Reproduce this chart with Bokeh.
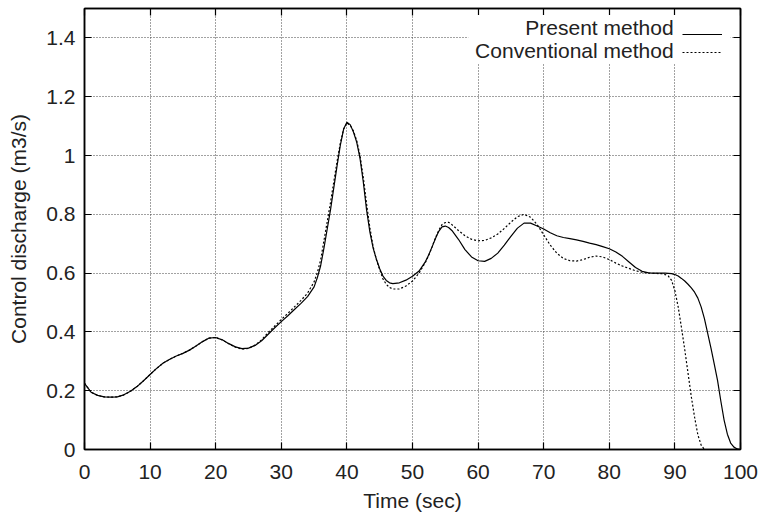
from bokeh.plotting import figure
from bokeh.models import (Range1d, LinearAxis, FixedTicker, Legend, LegendItem,
                          Label, BoxAnnotation)
from bokeh.embed import file_html
from bokeh.resources import INLINE

# ---------------- data ----------------
time_s = [
    0, 1, 2, 3, 4, 5, 6, 7, 8, 9, 10, 11, 12, 13, 14, 15, 16, 17, 18, 19,
    20, 21, 22, 23, 24, 25, 26, 27, 28, 29, 30, 31, 32, 33, 34, 35,
    35.5, 36, 36.5, 37, 37.5, 38, 38.5, 39, 39.5, 40, 40.5, 41, 41.5, 42,
    42.5, 43, 43.5, 44, 44.5, 45, 45.5, 46, 46.5, 47,
    48, 49, 50, 51,
    52, 52.5, 53, 53.5, 54, 54.5, 55, 55.5, 56, 56.5, 57,
    58, 59, 60, 61, 62, 63, 64, 65, 66, 67, 68, 69, 70, 71, 72, 73, 74, 75,
    76, 77, 78, 79, 80, 81, 82, 83, 84, 85, 86, 87, 88,
    88.5, 89, 89.5, 90, 90.5, 91, 91.5, 92, 92.5, 93, 93.5, 94, 94.5, 95,
    95.5, 96, 96.5, 97, 97.5, 98, 98.5, 99, 99.5, 100,
]

present = [
    0.225, 0.195, 0.184, 0.179, 0.178, 0.179, 0.186, 0.198, 0.214, 0.234,
    0.255, 0.276, 0.294, 0.307, 0.318, 0.327, 0.338, 0.352, 0.367, 0.379,
    0.381, 0.373, 0.360, 0.349, 0.343, 0.345, 0.354, 0.370, 0.392, 0.414,
    0.435, 0.455, 0.476, 0.497, 0.520, 0.553,
    0.585, 0.625, 0.685, 0.750, 0.815, 0.890, 0.965, 1.035, 1.090, 1.113,
    1.105, 1.080, 1.045, 0.990, 0.910, 0.815, 0.740, 0.685, 0.647, 0.615,
    0.590, 0.575, 0.567, 0.564,
    0.567, 0.576, 0.589, 0.607,
    0.640, 0.663, 0.690, 0.718, 0.742, 0.757, 0.760, 0.755, 0.745, 0.730,
    0.715,
    0.680, 0.655, 0.642, 0.640, 0.650, 0.668, 0.695, 0.725, 0.753, 0.770,
    0.770, 0.760, 0.750, 0.737, 0.727, 0.721, 0.717, 0.713, 0.708, 0.702,
    0.697, 0.690, 0.683, 0.672, 0.657, 0.638, 0.619, 0.606, 0.601, 0.600,
    0.600,
    0.600, 0.599, 0.598, 0.595, 0.590, 0.582, 0.573, 0.562, 0.550, 0.535,
    0.515, 0.485, 0.445, 0.395, 0.345, 0.290, 0.235, 0.165, 0.100, 0.052,
    0.022, 0.008, 0.002, 0.000,
]

conventional = [
    0.225, 0.195, 0.184, 0.179, 0.178, 0.179, 0.186, 0.198, 0.214, 0.234,
    0.255, 0.276, 0.294, 0.307, 0.318, 0.327, 0.338, 0.352, 0.367, 0.379,
    0.381, 0.373, 0.360, 0.348, 0.341, 0.344, 0.355, 0.373, 0.398, 0.420,
    0.442, 0.463, 0.485, 0.507, 0.532, 0.570,
    0.602, 0.645, 0.710, 0.775, 0.840, 0.910, 0.980, 1.042, 1.090, 1.110,
    1.103, 1.083, 1.050, 1.000, 0.925, 0.835, 0.755, 0.690, 0.645, 0.612,
    0.580, 0.562, 0.551, 0.546,
    0.546, 0.556, 0.573, 0.600,
    0.638, 0.662, 0.690, 0.720, 0.745, 0.765, 0.772, 0.773, 0.765, 0.755,
    0.745,
    0.727, 0.715, 0.710, 0.711, 0.720, 0.733, 0.752, 0.773, 0.792, 0.800,
    0.790, 0.765, 0.730, 0.695, 0.668, 0.650, 0.642, 0.641, 0.646, 0.654,
    0.658, 0.655, 0.646, 0.634, 0.624, 0.616, 0.608, 0.603, 0.600, 0.599,
    0.598,
    0.595, 0.590, 0.575, 0.540, 0.485, 0.415, 0.340, 0.260, 0.180, 0.110,
    0.050, 0.015, 0.000, 0.000, 0.000, 0.000, 0.000, 0.000, 0.000, 0.000,
    0.000, 0.000, 0.000, 0.000,
]

x_ticks = [0, 10, 20, 30, 40, 50, 60, 70, 80, 90, 100]
y_ticks = [0, 0.2, 0.4, 0.6, 0.8, 1.0, 1.2, 1.4]
y_tick_labels = ["0", "0.2", "0.4", "0.6", "0.8", "1", "1.2", "1.4"]
series_names = ["Present method", "Conventional method"]
x_title = "Time (sec)"
y_title = "Control discharge (m3/s)"

# ---------------- styling ----------------
FONT = "Liberation Sans"
FS = "21px"
TXT = "#222222"

p = figure(width=762, height=517, output_backend="svg", toolbar_location=None,
           x_range=Range1d(0, 100), y_range=Range1d(0, 1.5),
           min_border_left=84, min_border_right=22, min_border_top=8,
           min_border_bottom=68)
p.background_fill_color = "white"
p.border_fill_color = "white"
p.outline_line_color = "black"
p.outline_line_width = 1.5

solid = p.line(time_s, present, line_color="black", line_width=1.2)
dotted = p.line(time_s, conventional, line_color="black", line_width=1.2,
                line_dash="2 2")

# bottom / left axes
xa = p.xaxis[0]
ya = p.yaxis[0]
xa.ticker = FixedTicker(ticks=x_ticks)
ya.ticker = FixedTicker(ticks=y_ticks)
ya.major_label_overrides = {t: l for t, l in zip(y_ticks, y_tick_labels)}
xa.axis_label = x_title
ya.axis_label = y_title
for ax in (xa, ya):
    ax.major_tick_in = 7
    ax.major_tick_out = 0
    ax.minor_tick_line_color = None
    ax.axis_line_color = "black"
    ax.axis_line_width = 1.5
    ax.major_tick_line_width = 1.2
    ax.major_label_text_font = FONT
    ax.major_label_text_font_size = FS
    ax.major_label_text_color = TXT
    ax.axis_label_text_font = FONT
    ax.axis_label_text_font_size = FS
    ax.axis_label_text_font_style = "normal"
    ax.axis_label_text_color = TXT
xa.major_label_standoff = 15
xa.axis_label_standoff = 7
ya.major_label_standoff = 9
ya.axis_label_standoff = 13

# mirrored tick axes on top and right (ticks only, labels not drawn)
for loc, ticks in (("above", x_ticks), ("right", y_ticks)):
    ax = LinearAxis(ticker=FixedTicker(ticks=ticks))
    ax.major_tick_in = 7
    ax.major_tick_out = 0
    ax.minor_tick_line_color = None
    ax.axis_line_color = "black"
    ax.axis_line_width = 1.5
    ax.major_tick_line_width = 1.2
    ax.major_label_text_font_size = "1px"
    ax.major_label_text_color = None
    ax.major_label_standoff = 0
    p.add_layout(ax, loc)

# grid
for g in (p.xgrid[0], p.ygrid[0]):
    g.grid_line_color = "#444444"
    g.grid_line_width = 1
    g.grid_line_dash = "1 2"
p.xgrid[0].ticker = FixedTicker(ticks=x_ticks)
p.ygrid[0].ticker = FixedTicker(ticks=y_ticks)

# legend: white backing box, right-aligned labels, samples on the right
p.add_layout(BoxAnnotation(left=58.5, right=98.5, bottom=1.315, top=1.478,
                           fill_color="white", fill_alpha=1.0,
                           line_color=None))
p.add_layout(Label(x=89.8, y=1.437, text=series_names[0], text_align="right",
                   text_baseline="alphabetic", text_font=FONT,
                   text_font_size="21px", text_color=TXT))
p.add_layout(Label(x=89.8, y=1.357, text=series_names[1], text_align="right",
                   text_baseline="alphabetic", text_font=FONT,
                   text_font_size="21px", text_color=TXT))
legend = Legend(items=[LegendItem(label=" ", renderers=[solid]),
                       LegendItem(label=" ", renderers=[dotted])],
                location=(598, 388), glyph_width=40, glyph_height=18,
                label_height=18, label_width=0, label_standoff=0,
                padding=0, margin=0, spacing=0,
                background_fill_alpha=0, border_line_color=None,
                label_text_font_size="1px", label_text_color=None)
p.add_layout(legend)

open("out.html", "w").write(file_html(p, INLINE))
